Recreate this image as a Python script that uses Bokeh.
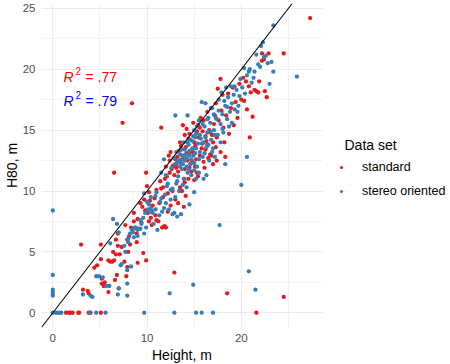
from bokeh.plotting import figure
from bokeh.models import (Range1d, FixedTicker, Slope, Label, Legend, LegendItem,
                          BoxAnnotation, Title)
from bokeh.embed import file_html
from bokeh.resources import INLINE

# ---- data ----
standard_points = [
    (1.4, 0), (1.7, 0), (1.9, 0), (2.1, 0), (2.7, 0), (2.8, 0), (3.8, 0), (4.0, 0), (5.1, 0), (21.6, 0),
    (27.3, 24.2), (24.5, 21.3), (8.4, 17.2), (7.4, 15.6), (6.5, 11.5), (9.9, 11.5), (3.0, 5.6),
    (12.9, 3.3), (18.5, 1.6), (24.5, 1.3), (13.9, 8.7), (20.9, 14.4), (21.2, 16.1), (11.5, 15.2), (17.8, 19.2),
    (3.2, 1.9), (3.7, 1.8), (3.8, 1.6), (4.4, 3.7), (4.7, 3.9), (5.1, 5.6), (5.1, 4.4), (5.2, 2.8), (5.2, 2.4),
    (5.4, 2.2), (5.5, 2.5), (5.9, 1.7), (5.9, 4.3), (6.1, 4.2), (6.3, 4.2), (6.5, 4.3), (6.4, 5.0), (6.7, 4.8),
    (6.9, 5.5), (6.7, 6.0), (6.9, 6.5), (7.3, 5.4), (7.1, 4.8), (6.6, 2.7), (6.8, 3.1), (7.0, 2.0), (7.8, 3.0),
    (7.9, 3.75), (7.6, 4.2), (8.0, 5.0), (8.2, 5.6), (7.9, 6.0), (7.7, 7.2), (8.3, 7.0), (8.6, 7.5), (9.0, 7.7),
    (8.1, 6.3), (8.9, 5.8), (9.0, 4.1), (9.6, 4.9), (9.9, 4.3), (9.1, 6.9), (9.4, 7.4), (8.6, 8.2), (8.9, 6.5),
    (9.7, 9.3), (9.8, 8.4), (10.0, 10.4), (10.2, 9.9), (10.3, 9.2), (10.4, 7.8), (10.5, 7.2), (10.6, 8.8),
    (10.9, 8.0), (11.0, 7.6), (11.2, 7.5), (11.3, 9.0), (11.5, 10.2), (11.7, 10.3), (11.7, 9.5), (11.9, 7.1),
    (12.0, 7.0), (12.1, 11.2), (12.2, 9.8), (12.4, 11.5), (12.6, 11.8), (12.3, 12.9), (12.5, 13.2), (12.8, 12.1),
    (12.5, 8.8), (12.7, 10.0), (13.0, 9.3), (13.1, 11.9), (12.4, 12.5), (11.9, 11.0), (12.0, 12.0),
    (11.4, 10.8), (11.0, 10.1), (10.8, 9.4), (10.1, 8.2), (10.2, 7.5), (9.5, 8.7), (9.3, 9.0), (11.6, 7.0),
    (11.8, 7.1), (12.2, 8.3), (13.3, 9.0), (13.7, 10.0),
    (13.2, 12.8), (13.4, 13.3), (13.5, 14.0), (13.6, 12.3), (13.8, 12.9), (13.8, 15.4), (13.9, 11.0),
    (14.0, 11.8), (14.1, 13.6), (14.2, 15.1), (14.3, 12.5), (14.4, 14.3), (14.5, 14.7), (14.6, 13.2),
    (14.7, 11.6), (14.8, 12.4), (14.9, 15.6), (15.0, 14.0), (15.1, 13.7), (15.2, 12.6), (15.3, 11.5),
    (15.4, 15.4), (15.5, 14.4), (15.6, 12.9), (15.7, 16.0), (15.8, 13.5), (15.9, 14.9), (16.0, 15.8),
    (16.1, 11.9), (16.2, 13.4), (16.3, 14.1), (16.4, 16.5), (16.5, 12.7), (16.6, 15.0), (16.7, 13.0),
    (16.8, 16.8), (16.9, 14.6), (17.0, 12.2), (17.1, 15.5), (17.2, 16.2), (13.5, 10.3), (14.0, 10.7),
    (14.4, 11.0), (15.0, 10.9), (14.1, 9.6), (12.9, 11.3), (13.1, 12.2), (13.3, 11.6), (13.6, 13.7),
    (13.9, 12.6), (14.2, 13.1), (14.5, 11.9), (14.6, 12.2), (14.9, 13.2), (15.1, 12.0), (15.3, 14.9),
    (15.6, 15.2), (15.9, 13.9), (16.2, 14.5), (16.4, 13.8), (16.7, 14.8), (17.0, 14.0), (17.3, 13.6),
    (15.4, 11.2), (16.0, 12.4), (16.8, 12.9), (14.0, 14.6), (13.0, 12.6), (12.7, 12.0),
    (17.3, 17.2), (17.4, 14.4), (17.5, 18.4), (17.6, 15.8), (17.8, 13.2), (17.9, 16.6), (18.0, 17.9),
    (18.1, 15.2), (18.2, 14.0), (18.4, 16.2), (18.6, 18.0), (18.7, 14.7), (18.9, 16.8), (19.1, 18.5),
    (19.2, 15.4), (19.4, 17.3), (19.6, 16.0), (19.8, 18.8), (20.0, 17.5), (20.2, 19.3), (20.3, 17.4),
    (20.5, 19.0), (20.6, 16.7), (20.8, 18.6), (21.0, 18.1), (21.4, 18.3), (21.6, 18.2), (21.8, 18.1),
    (21.9, 19.0), (22.2, 20.7), (22.4, 20.8), (22.5, 18.2), (22.7, 17.7), (22.9, 21.3), (22.2, 21.3),
    (18.3, 12.8), (17.4, 12.5),
]

stereo_points = [
    (0.0, 0), (0.3, 0), (0.5, 0), (0.7, 0), (0.9, 0), (3.9, 0), (4.6, 0), (5.6, 0), (9.7, 0), (12.9, 0),
    (15.2, 0), (15.8, 0), (17.0, 0),
    (0.0, 8.4), (0.0, 3.1), (0.0, 1.9), (0.0, 1.7), (0.0, 1.5), (0.0, 1.4),
    (12.4, 1.6), (14.9, 2.3), (21.5, 1.9), (20.8, 3.4), (17.7, 7.2), (20.0, 10.5), (20.6, 12.8),
    (25.9, 19.4), (23.4, 23.6), (18.3, 12.2),
    (3.2, 1.5), (4.0, 1.4), (4.2, 1.3), (4.6, 3.0), (4.9, 3.0), (5.3, 2.9), (5.7, 2.2), (6.0, 2.2),
    (6.1, 5.7), (6.4, 7.7), (6.8, 7.3), (7.0, 6.6), (7.2, 3.9), (7.3, 4.0), (6.9, 1.5), (7.0, 2.0),
    (7.9, 1.4), (7.9, 2.4), (7.9, 3.5), (7.7, 5.0), (8.0, 5.8), (8.2, 6.5), (8.4, 6.8), (8.6, 6.9),
    (8.8, 7.0), (8.3, 3.8), (8.6, 6.2), (9.0, 6.3), (9.3, 7.6), (9.4, 7.3), (9.7, 9.8), (9.7, 6.5),
    (9.6, 7.8), (9.3, 6.9), (9.0, 6.8), (8.7, 7.0), (8.5, 6.6), (8.0, 6.1), (7.6, 5.5),
    (9.8, 8.2), (9.9, 7.0), (10.1, 8.5), (10.3, 8.3), (10.4, 8.6), (10.5, 8.4), (10.6, 8.2), (10.4, 9.5),
    (10.7, 7.3), (10.9, 9.6), (11.0, 9.9), (11.1, 6.8), (11.4, 9.1), (11.5, 9.4), (11.5, 11.5),
    (11.6, 8.3), (11.9, 9.7), (12.1, 10.4), (12.2, 10.6), (12.3, 8.5), (12.5, 9.3), (12.6, 11.9),
    (12.7, 10.2), (12.7, 8.1), (12.9, 8.2), (13.0, 9.5), (13.1, 10.6), (13.2, 12.5), (13.2, 7.9),
    (11.8, 12.6), (12.0, 11.3), (12.5, 10.1), (12.0, 9.0), (11.3, 8.0), (11.8, 8.6), (10.9, 8.5),
    (10.2, 8.9), (10.0, 9.1),
    (13.3, 11.2), (13.5, 12.0), (13.6, 12.6), (13.7, 13.4), (13.8, 12.2), (14.0, 12.5), (14.1, 13.0),
    (14.2, 12.0), (14.3, 11.5), (14.4, 13.8), (14.5, 12.9), (14.6, 14.2), (14.7, 12.6), (14.8, 13.5),
    (14.9, 14.5), (15.0, 12.3), (15.0, 15.0), (15.1, 13.1), (15.2, 14.7), (15.3, 12.0), (15.4, 13.9),
    (15.5, 15.8), (15.6, 13.2), (15.7, 14.3), (15.8, 17.3), (15.9, 12.8), (16.0, 14.0), (16.1, 15.3),
    (16.2, 17.2), (16.3, 13.6), (16.4, 14.8), (16.5, 16.0), (16.6, 12.5), (16.7, 15.6), (16.8, 14.2),
    (16.9, 16.8), (17.0, 13.5), (17.1, 15.0), (17.2, 12.8), (14.3, 16.2), (13.9, 14.0), (13.4, 10.0),
    (13.8, 10.5), (14.2, 10.3), (14.7, 11.3), (15.2, 11.0), (15.0, 9.9), (14.5, 8.9), (13.6, 8.1),
    (12.8, 12.7), (13.0, 12.2), (13.1, 13.2), (13.4, 12.4), (13.5, 13.0), (13.7, 11.8), (13.9, 12.9),
    (14.0, 13.4), (14.2, 12.7), (14.3, 14.0), (14.5, 13.3), (14.6, 12.2), (14.8, 14.1), (14.9, 12.9),
    (15.1, 14.4), (15.2, 13.5), (15.3, 15.3), (15.5, 12.6), (15.6, 14.6), (15.8, 13.9), (15.9, 15.5),
    (16.1, 13.1), (16.2, 14.4), (16.4, 15.9), (16.5, 13.8), (16.7, 14.9), (16.9, 13.2), (17.1, 16.3),
    (17.2, 14.6), (17.4, 15.9), (17.6, 16.6), (17.8, 14.0), (18.0, 15.1), (18.2, 17.4), (18.5, 16.9),
    (18.7, 15.3), (19.0, 17.2), (19.3, 18.6), (19.6, 16.5), (19.8, 17.8), (14.0, 11.0), (14.4, 11.8),
    (15.0, 11.7), (15.5, 11.5), (16.0, 11.0), (16.3, 11.3), (13.2, 10.8),
    (17.3, 16.0), (17.5, 14.6), (17.6, 17.5), (17.8, 15.5), (17.9, 18.1), (18.0, 16.3), (18.1, 14.8),
    (18.3, 17.0), (18.4, 18.5), (18.5, 15.9), (18.6, 17.7), (18.8, 16.5), (18.9, 18.6), (19.0, 15.6),
    (19.2, 17.9), (19.3, 16.7), (19.5, 18.3), (19.7, 17.0), (19.9, 19.2), (20.1, 18.5), (20.3, 20.1),
    (20.4, 18.0), (20.6, 19.5), (20.8, 19.8), (20.9, 20.0), (21.1, 18.9), (21.4, 19.8), (21.6, 21.2),
    (21.8, 20.4), (22.1, 21.9), (22.3, 22.2), (22.4, 21.0), (22.6, 21.1), (22.8, 20.5), (23.0, 18.8),
    (23.2, 20.6), (23.4, 19.8), (22.0, 20.2), (21.3, 19.3), (13.0, 16.2),
]

standard_x = [pt[0] for pt in standard_points]
standard_y = [pt[1] for pt in standard_points]
stereo_x = [pt[0] for pt in stereo_points]
stereo_y = [pt[1] for pt in stereo_points]

x_ticks = [0, 10, 20]
x_minor = [5, 15, 25]
y_ticks = [0, 5, 10, 15, 20, 25]
y_minor = [2.5, 7.5, 12.5, 17.5, 22.5]
series_labels = ["standard", "stereo oriented"]
r2_values = [".77", ".79"]

RED = "#E41A1C"
BLUE = "#377EB8"
FONT = "Liberation Sans"
X_PANEL_END = 28.6  # right edge of the data panel

# the frame spans the whole width; the area right of the panel (legend area) is blanked
p = figure(width=450, height=364, output_backend="svg", toolbar_location=None,
           x_range=Range1d(-1.2, 42.2), y_range=Range1d(-1.21, 25.4),
           min_border_left=41, min_border_right=0, min_border_top=3, min_border_bottom=37)
p.outline_line_color = None
p.background_fill_color = "white"
p.border_fill_color = "white"

p.xaxis.ticker = FixedTicker(ticks=x_ticks, minor_ticks=x_minor)
p.yaxis.ticker = FixedTicker(ticks=y_ticks, minor_ticks=y_minor)
for g in (p.xgrid, p.ygrid):
    g.grid_line_color = "#EBEBEB"
    g.grid_line_width = 1.1
    g.minor_grid_line_color = "#F2F2F2"
    g.minor_grid_line_width = 1

for ax in (p.xaxis, p.yaxis):
    ax.axis_line_color = None
    ax.major_tick_line_color = None
    ax.minor_tick_line_color = None
    ax.major_tick_out = 0
    ax.major_tick_in = 0
    ax.minor_tick_out = 0
    ax.minor_tick_in = 0
    ax.major_label_text_font = FONT
    ax.major_label_text_font_size = "11.5px"
    ax.major_label_text_color = "#4D4D4D"
    ax.axis_label_text_font = FONT
    ax.axis_label_text_font_size = "14px"
    ax.axis_label_text_font_style = "normal"
    ax.axis_label_text_color = "black"
    ax.axis_label_standoff = 0
p.xaxis.major_label_standoff = 6
p.yaxis.major_label_standoff = 6
p.yaxis.axis_label = "H80, m"

p.add_layout(Title(text="Height, m", align="left", offset=110.5, standoff=0,
                   text_font=FONT, text_font_size="14px", text_font_style="normal",
                   text_color="black"), "below")

r1 = p.scatter(standard_x, standard_y, size=4.3, color=RED, line_width=0)
r2 = p.scatter(stereo_x, stereo_y, size=4.3, color=BLUE, line_width=0)

p.add_layout(Slope(gradient=1, y_intercept=0, line_color="black", line_width=1.1))

# blank out the grid to the right of the data panel
p.add_layout(BoxAnnotation(left=X_PANEL_END, fill_color="white", fill_alpha=1,
                           line_color=None, level="underlay"))

legend = Legend(items=[LegendItem(label=series_labels[0], renderers=[r1]),
                       LegendItem(label=series_labels[1], renderers=[r2])],
                location=(296, 128), padding=0, margin=0, spacing=8,
                glyph_width=8, glyph_height=16, label_height=16, label_standoff=17,
                label_text_font=FONT, label_text_font_size="12.5px", label_text_color="black",
                border_line_color=None, background_fill_alpha=0)
p.add_layout(legend)

p.add_layout(Label(x=303, y=183, x_units="screen", y_units="screen", text="Data set",
                   text_font=FONT, text_font_size="14px", text_color="black",
                   text_baseline="alphabetic"))

# R^2 annotations
for i, (col, ybase) in enumerate([("red", 251), ("blue", 227)]):
    p.add_layout(Label(x=22, y=ybase, x_units="screen", y_units="screen", text="R",
                       text_font=FONT, text_font_size="14px", text_font_style="italic",
                       text_color=col, text_baseline="alphabetic"))
    p.add_layout(Label(x=34, y=ybase + 6, x_units="screen", y_units="screen", text="2",
                       text_font=FONT, text_font_size="10px",
                       text_color=col, text_baseline="alphabetic"))
    p.add_layout(Label(x=44, y=ybase, x_units="screen", y_units="screen", text="= " + r2_values[i],
                       text_font=FONT, text_font_size="14px",
                       text_color=col, text_baseline="alphabetic"))

open("out.html", "w").write(file_html(p, INLINE))
